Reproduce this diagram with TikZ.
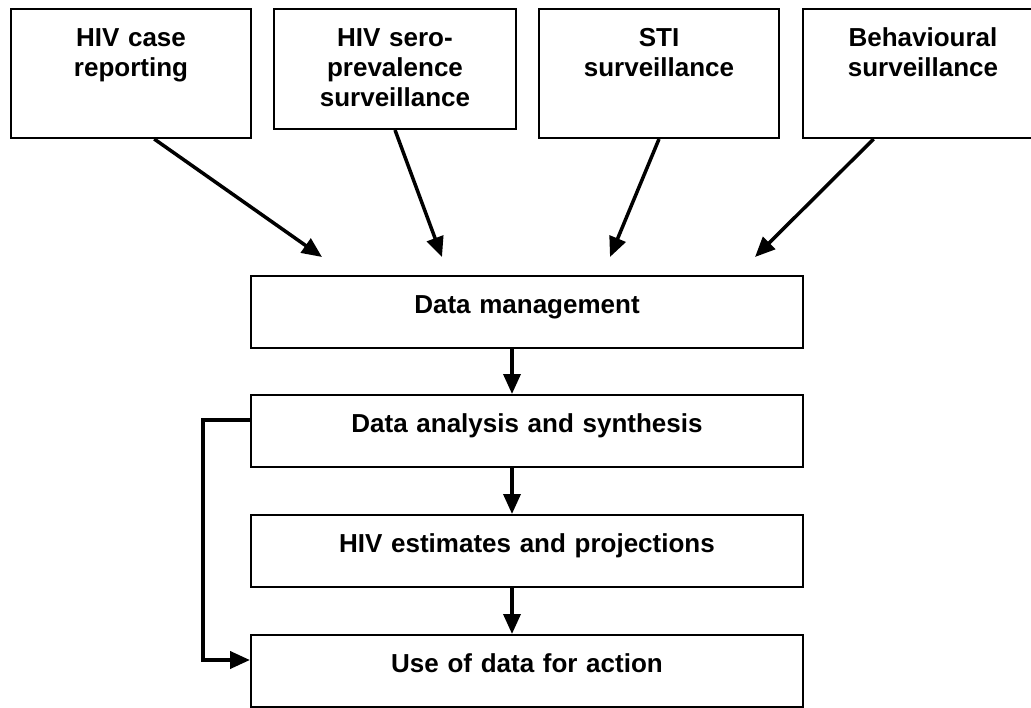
\documentclass[tikz,border=0pt]{standalone}
\usepackage{fontspec}
\setmainfont{Liberation Sans}
\usetikzlibrary{arrows.meta,calc}

\tikzset{
	box/.style = {draw, line width=2pt, rectangle, anchor=north west, inner sep=0pt,
		align=center, text height=37pt, font=\fontsize{26}{30}\selectfont\bfseries},
	topbox/.style = {box, text width=240pt, text depth=92pt},
	stepbox/.style = {box, text width=552pt, text depth=35pt},
	flow/.style = {line width=3.5pt, -{Triangle[length=20pt,width=17pt]}}
}

\begin{document}
\begin{tikzpicture}[x=1pt, y=-1pt]

	\useasboundingbox (0,0) rectangle (1031,707);
	\clip (0,0) rectangle (1031,707);

	% sources
	\node [topbox] (case) at (10,8) {HIV case\\reporting};
	\node [topbox, text width=242pt, text depth=83pt] (sero) at (273,8) {HIV sero-\\prevalence\\surveillance};
	\node [topbox] (sti) at (538,8) {STI\\surveillance};
	\node [topbox] (behav) at (802,8) {Behavioural\\surveillance};

	% chain
	\node [stepbox] (dm) at (250,275) {Data management};
	\node [stepbox] (da) at (250,394) {Data analysis and synthesis};
	\node [stepbox] (est) at (250,514) {HIV estimates and projections};
	\node [stepbox] (use) at (250,634) {Use of data for action};

	\coordinate (inA) at (322,257);
	\coordinate (inB) at (442,257);
	\coordinate (inC) at (610,257);
	\coordinate (inD) at (755,257);
	\coordinate (spine) at (512,0);

	\draw [flow] ($(case.south west)!0.596!(case.south east)$) -- (inA);
	\draw [flow] (sero.south) -- (inB);
	\draw [flow] (sti.south) -- (inC);
	\draw [flow] ($(behav.south west)!0.296!(behav.south east)$) -- (inD);

	\draw [flow] (dm.south -| spine) -- (da.north -| spine);
	\draw [flow] (da.south -| spine) -- (est.north -| spine);
	\draw [flow] (est.south -| spine) -- (use.north -| spine);

	\draw [flow, line width=4pt] ([yshift=-26pt]da.north west) -- ++(-47,0) |- ([yshift=-26pt]use.north west);

\end{tikzpicture}
\end{document}
